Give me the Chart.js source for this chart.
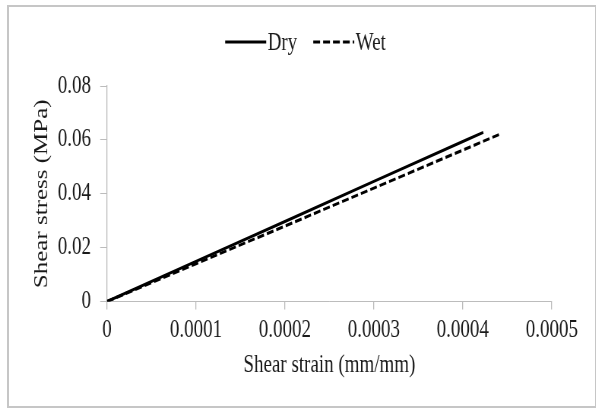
<!DOCTYPE html>
<html>
<head>
<meta charset="utf-8">
<script src="https://cdn.jsdelivr.net/npm/chart.js@4"></script>
<style>
  html, body { margin: 0; padding: 0; background: #fff; overflow: hidden; }
  #page { position: relative; width: 596px; height: 410px; overflow: hidden; background: #fff; }
  /* the reference is squeezed sideways, so draw wide and scale it down */
  #wrap { position: absolute; left: 0; top: 0; width: 784px; height: 410px;
          transform: scaleX(0.76); transform-origin: 0 0; }
  #frame { position: absolute; left: 7px; top: 5px; width: 586px; height: 399px;
           border: 2px solid #c6c6c6; pointer-events: none; }
</style>
</head>
<body>
<div id="page">
  <div id="wrap"><canvas id="mainChart" width="784" height="410"></canvas></div>
  <div id="frame"></div>
</div>
<script>
// ===== DATA =====
const strainDry = [0, 0.0001, 0.0002, 0.0003, 0.0004, 0.000423];
const stressDry = [0, 0.0149, 0.0297, 0.0446, 0.0594, 0.0628];
const strainWet = [0, 0.0001, 0.0002, 0.0003, 0.0004, 0.000443];
const stressWet = [0, 0.0140, 0.0280, 0.0421, 0.0562, 0.0623];
const seriesNames = ["Dry", "Wet"];
const xTicks = [0, 0.0001, 0.0002, 0.0003, 0.0004, 0.0005];
const yTicks = [0, 0.02, 0.04, 0.06, 0.08];

const FONT = "'Liberation Serif', 'Times New Roman', serif";
const FONT_SIZE = 25;
const AXIS_GREY = "#bcbcbc";
const TEXT = "#1a1a1a";

function toPoints(xs, ys) {
  return xs.map((x, i) => ({ x, y: ys[i] }));
}

// legend drawn by hand: line sample hard against the label, centred at x=402
const legendPlugin = {
  id: "lineLegend",
  afterDraw(chart) {
    const ctx = chart.ctx;
    const lineLen = 54, gap = 2, itemGap = 21, cy = 42;
    ctx.save();
    ctx.font = `${FONT_SIZE}px ${FONT}`;
    const items = chart.data.datasets.map(ds => ({
      ds, w: lineLen + gap + ctx.measureText(ds.label).width
    }));
    const total = items.reduce((s, it) => s + it.w, 0) + itemGap * (items.length - 1);
    let x = 402 - total / 2;
    for (const it of items) {
      ctx.strokeStyle = it.ds.borderColor;
      ctx.lineWidth = it.ds.borderWidth;
      ctx.setLineDash(it.ds.borderDash || []);
      ctx.beginPath();
      ctx.moveTo(x, cy);
      ctx.lineTo(x + lineLen, cy);
      ctx.stroke();
      ctx.setLineDash([]);
      ctx.fillStyle = TEXT;
      ctx.textBaseline = "middle";
      ctx.textAlign = "left";
      ctx.fillText(it.ds.label, x + lineLen + gap, cy + 1);
      x += it.w + itemGap;
    }
    ctx.restore();
  }
};

new Chart(document.getElementById("mainChart"), {
  type: "line",
  data: {
    datasets: [
      {
        label: seriesNames[0],
        data: toPoints(strainDry, stressDry),
        borderColor: "#000",
        backgroundColor: "#000",
        borderWidth: 3,
        pointRadius: 0,
        tension: 0
      },
      {
        label: seriesNames[1],
        data: toPoints(strainWet, stressWet),
        borderColor: "#000",
        backgroundColor: "#000",
        borderWidth: 3,
        borderDash: [9, 4],
        pointRadius: 0,
        tension: 0
      }
    ]
  },
  options: {
    responsive: false,
    animation: false,
    devicePixelRatio: 1,
    layout: { padding: { left: 26, right: 58, top: 86, bottom: 8 } },
    plugins: {
      legend: { display: false },
      tooltip: { enabled: false }
    },
    scales: {
      x: {
        type: "linear",
        min: 0,
        max: 0.0005,
        afterBuildTicks(scale) {
          scale.ticks = xTicks.map(v => ({ value: v }));
        },
        afterFit(scale) { scale.height = 100.5; },
        ticks: {
          color: TEXT,
          padding: 6,
          font: { family: FONT, size: FONT_SIZE },
          maxRotation: 0,
          callback: v => String(v)
        },
        grid: {
          drawOnChartArea: false,
          drawTicks: true,
          tickLength: 8,
          color: AXIS_GREY,
          lineWidth: 1.3
        },
        border: { color: AXIS_GREY, width: 1 },
        title: {
          display: true,
          text: "Shear strain (mm/mm)",
          color: TEXT,
          font: { family: FONT, size: FONT_SIZE },
          padding: { top: 0, bottom: 22 }
        }
      },
      y: {
        type: "linear",
        min: 0,
        max: 0.08,
        afterBuildTicks(scale) {
          scale.ticks = yTicks.map(v => ({ value: v }));
        },
        afterFit(scale) { scale.width = 114.8; },
        ticks: {
          color: TEXT,
          padding: 12,
          font: { family: FONT, size: FONT_SIZE },
          callback: v => String(v)
        },
        grid: {
          drawOnChartArea: false,
          drawTicks: true,
          tickLength: 9,
          color: AXIS_GREY,
          lineWidth: 1
        },
        border: { color: AXIS_GREY, width: 1.3 },
        title: {
          display: true,
          text: "Shear stress (MPa)",
          color: TEXT,
          font: { family: FONT, size: FONT_SIZE },
          padding: { top: 14, bottom: 0 }
        }
      }
    }
  },
  plugins: [legendPlugin]
});
</script>
</body>
</html>
